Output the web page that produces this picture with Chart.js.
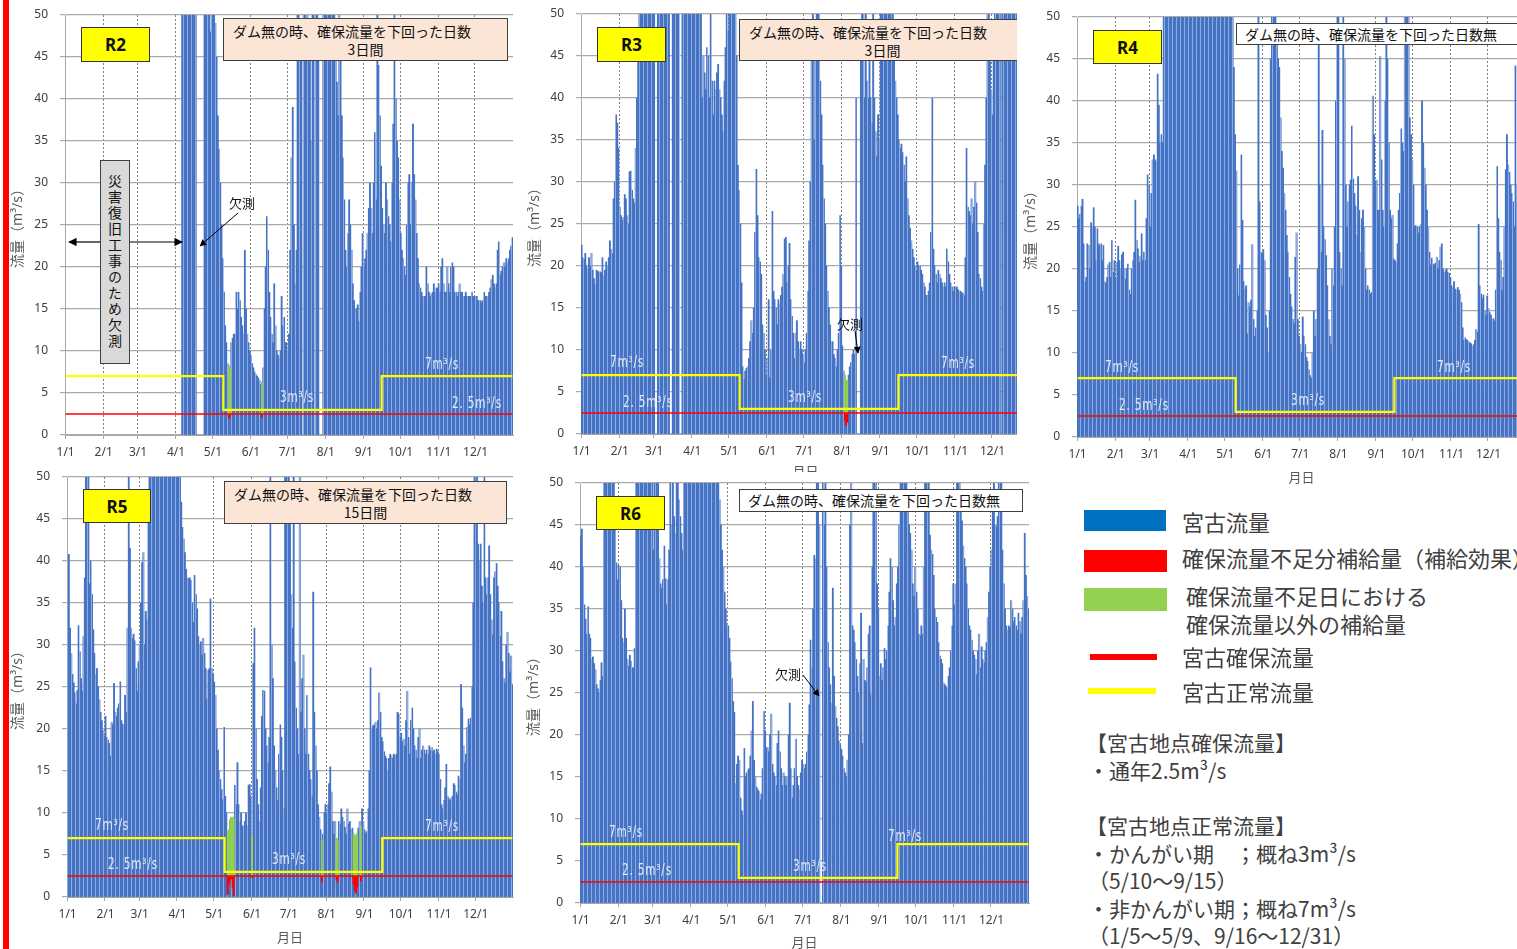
<!DOCTYPE html>
<html lang="ja">
<head>
<meta charset="utf-8">
<title>宮古地点 流量 R2〜R6</title>
<script src="https://cdn.jsdelivr.net/npm/chart.js@4.4.1/dist/chart.umd.min.js"></script>
<style>
  html, body { margin: 0; padding: 0; }
  body { width: 1517px; height: 949px; position: relative; overflow: hidden; background: #fff;
         font-family: "Noto Sans CJK JP", "Noto Sans", sans-serif; }
  .panel { position: absolute; background: #fff; overflow: hidden; }
  .panel canvas { display: block; }
  .tag { position: absolute; box-sizing: border-box; background: #ffff00; border: 1.5px solid #333;
         font: bold 17px "Noto Sans", sans-serif; color: #111; display: flex; align-items: center; justify-content: center; }
  .note { position: absolute; box-sizing: border-box; background: #fbe5d6; border: 1.5px solid #404040;
          font-size: 14px; color: #111; line-height: 18px; white-space: nowrap; }
  .note.plain { background: #fff; }
  .note .l1 { padding-left: 9px; padding-top: 3px; }
  .note .l2 { text-align: center; }
  .flow { position: absolute; transform: translate(-50%, -50%) scaleX(0.78); color: #e4eaf7; white-space: nowrap;
          font: 15px "DejaVu Sans Condensed", "DejaVu Sans", sans-serif; letter-spacing: 1px; }
  .memo { position: absolute; transform: translate(-50%, -50%); font-size: 13px; color: #111; white-space: nowrap; }
  .vbox { position: absolute; box-sizing: border-box; background: #d9d9d9; border: 1.5px solid #404040;
          writing-mode: vertical-rl; font-size: 14px; letter-spacing: 2px; color: #111;
          display: flex; align-items: center; justify-content: center; }
  svg.arrows { position: absolute; left: 0; top: 0; pointer-events: none; }
  .sw { position: absolute; }
  .lt { position: absolute; transform: translateY(-50%); font-size: 22px; line-height: 1; color: #404040; white-space: nowrap; }
  .lt.sm { font-size: 21px; }
  #redbar { position: absolute; left: 3px; top: 0; width: 6px; height: 949px; background: #ff0000; }
</style>
</head>
<body>

<div class="panel" style="left:0;top:0;width:520px;height:470px">
  <canvas id="cR2" width="520" height="470"></canvas>
  <div class="tag" style="left:81px;top:27px;width:69px;height:35px">R2</div>
  <div class="note" style="left:223px;top:18px;width:285px;height:43px">
    <div class="l1">ダム無の時、確保流量を下回った日数</div><div class="l2">3日間</div>
  </div>
  <div class="vbox" style="left:100px;top:160px;width:30px;height:204px">災害復旧工事のため欠測</div>
  <div class="memo" style="left:242px;top:202px">欠測</div>
  <div class="flow" style="left:442px;top:364px">7m³/s</div>
  <div class="flow" style="left:297px;top:397px">3m³/s</div>
  <div class="flow" style="left:477px;top:403px">2. 5m³/s</div>
  <svg class="arrows" width="520" height="470">
    <defs><marker id="a2" viewBox="0 0 10 10" refX="9" refY="5" markerWidth="7" markerHeight="7" orient="auto-start-reverse">
      <path d="M0,0 L10,5 L0,10 z" fill="#000"/></marker></defs>
    <line x1="69" y1="242" x2="100" y2="242" stroke="#000" stroke-width="1.2" marker-start="url(#a2)"/>
    <line x1="130" y1="242" x2="182" y2="242" stroke="#000" stroke-width="1.2" marker-end="url(#a2)"/>
    <line x1="238" y1="213" x2="200" y2="246" stroke="#000" stroke-width="1" marker-end="url(#a2)"/>
  </svg>
</div>

<div class="panel" style="left:520px;top:0;width:520px;height:480px">
  <canvas id="cR3" width="520" height="480"></canvas>
  <div class="tag" style="left:77px;top:27px;width:69px;height:35px">R3</div>
  <div class="note" style="left:219px;top:19px;width:300px;height:42px">
    <div class="l1">ダム無の時、確保流量を下回った日数</div><div class="l2" style="width:285px">3日間</div>
  </div>
  <div class="memo" style="left:330px;top:323px">欠測</div>
  <div class="flow" style="left:107px;top:362px">7m³/s</div>
  <div class="flow" style="left:128px;top:402px">2. 5m³/s</div>
  <div class="flow" style="left:285px;top:397px">3m³/s</div>
  <div class="flow" style="left:438px;top:363px">7m³/s</div>
  <svg class="arrows" width="520" height="480">
    <defs><marker id="a3" viewBox="0 0 10 10" refX="9" refY="5" markerWidth="7" markerHeight="7" orient="auto">
      <path d="M0,0 L10,5 L0,10 z" fill="#000"/></marker></defs>
    <line x1="335" y1="331" x2="338" y2="353" stroke="#000" stroke-width="1" marker-end="url(#a3)"/>
  </svg>
</div>

<div class="panel" style="left:1017px;top:0;width:520px;height:490px">
  <canvas id="cR4" width="520" height="490"></canvas>
  <div class="tag" style="left:76px;top:30px;width:69px;height:34px">R4</div>
  <div class="note plain" style="left:219px;top:23px;width:300px;height:22px">
    <div class="l1" style="padding-top:1px;padding-left:8px">ダム無の時、確保流量を下回った日数無</div>
  </div>
  <div class="flow" style="left:105px;top:367px">7m³/s</div>
  <div class="flow" style="left:127px;top:405px">2. 5m³/s</div>
  <div class="flow" style="left:291px;top:400px">3m³/s</div>
  <div class="flow" style="left:437px;top:367px">7m³/s</div>
</div>

<div class="panel" style="left:0;top:465px;width:520px;height:484px">
  <canvas id="cR5" width="520" height="484"></canvas>
  <div class="tag" style="left:83px;top:24px;width:68px;height:34px">R5</div>
  <div class="note" style="left:224px;top:16px;width:283px;height:43px">
    <div class="l1">ダム無の時、確保流量を下回った日数</div><div class="l2">15日間</div>
  </div>
  <div class="flow" style="left:112px;top:360px">7m³/s</div>
  <div class="flow" style="left:133px;top:399px">2. 5m³/s</div>
  <div class="flow" style="left:289px;top:394px">3m³/s</div>
  <div class="flow" style="left:442px;top:361px">7m³/s</div>
</div>

<div class="panel" style="left:520px;top:472px;width:520px;height:480px">
  <canvas id="cR6" width="520" height="480"></canvas>
  <div class="tag" style="left:76px;top:24px;width:69px;height:34px">R6</div>
  <div class="note plain" style="left:219px;top:17px;width:284px;height:23px">
    <div class="l1" style="padding-top:1px;padding-left:8px">ダム無の時、確保流量を下回った日数無</div>
  </div>
  <div class="memo" style="left:268px;top:201px">欠測</div>
  <div class="flow" style="left:106px;top:360px">7m³/s</div>
  <div class="flow" style="left:127px;top:398px">2. 5m³/s</div>
  <div class="flow" style="left:290px;top:394px">3m³/s</div>
  <div class="flow" style="left:385px;top:364px">7m³/s</div>
  <svg class="arrows" width="520" height="480">
    <defs><marker id="a6" viewBox="0 0 10 10" refX="9" refY="5" markerWidth="7" markerHeight="7" orient="auto">
      <path d="M0,0 L10,5 L0,10 z" fill="#000"/></marker></defs>
    <line x1="283" y1="203" x2="299" y2="224" stroke="#000" stroke-width="1" marker-end="url(#a6)"/>
  </svg>
</div>

<div id="legend">
  <div class="sw" style="left:1084px;top:510px;width:82px;height:21px;background:#0070c0"></div>
  <div class="lt" style="left:1182px;top:521px">宮古流量</div>
  <div class="sw" style="left:1084px;top:550px;width:83px;height:22px;background:#ff0000"></div>
  <div class="lt" style="left:1182px;top:557px">確保流量不足分補給量（補給効果）</div>
  <div class="sw" style="left:1084px;top:588px;width:83px;height:23px;background:#92d050"></div>
  <div class="lt" style="left:1186px;top:595px">確保流量不足日における</div>
  <div class="lt" style="left:1186px;top:623px">確保流量以外の補給量</div>
  <div class="sw" style="left:1090px;top:654px;width:67px;height:6px;background:#ff0000"></div>
  <div class="lt" style="left:1182px;top:656px">宮古確保流量</div>
  <div class="sw" style="left:1088px;top:688px;width:68px;height:6px;background:#ffff00"></div>
  <div class="lt" style="left:1182px;top:691px">宮古正常流量</div>
  <div class="lt sm" style="left:1086px;top:742px">【宮古地点確保流量】</div>
  <div class="lt sm" style="left:1088px;top:770px">・通年2.5m³/s</div>
  <div class="lt sm" style="left:1086px;top:825px">【宮古地点正常流量】</div>
  <div class="lt sm" style="left:1088px;top:853px">・かんがい期　；概ね3m³/s</div>
  <div class="lt sm" style="left:1088px;top:880px">（5/10～9/15）</div>
  <div class="lt sm" style="left:1088px;top:908px">・非かんがい期；概ね7m³/s</div>
  <div class="lt sm" style="left:1088px;top:935px">（1/5～5/9、9/16～12/31）</div>
</div>

<div id="redbar"></div>

<script>
// Daily flow at Miyako (m3/s). null = missing.
const MONTH_DAYS = [31, 28, 31, 30, 31, 30, 31, 31, 30, 31, 30, 31];
const TICK_LABELS = ['1/1', '2/1', '3/1', '4/1', '5/1', '6/1', '7/1', '8/1', '9/1', '10/1', '11/1', '12/1'];
const Y_MAX = 50;
const Y_STEP = 5;
const GUARANTEED_FLOW = 2.5;       // 確保流量
const NORMAL_FLOW_IRRIGATION = 3;  // かんがい期
const NORMAL_FLOW_OTHER = 7;       // 非かんがい期
const IRRIGATION_FROM = '5/10';
const IRRIGATION_TO = '9/15';

const flowR2 = [
  null, null, null, null, null, null, null, null, null, null, null, null, null, null, null, null, null, null, null, null, null, null, null, null, null, null, null, null, null, null, null,
  null, null, null, null, null, null, null, null, null, null, null, null, null, null, null, null, null, null, null, null, null, null, null, null, null, null, null, null,
  null, null, null, null, null, null, null, null, null, null, null, null, null, null, null, null, null, null, null, null, null, null, null, null, null, null, null, null, null, null, null,
  null, null, null, null, null, 65, 80, 90, 75, 70, 85, 60, 72, 66, 58, 62, 55, null, null, null, null, null, null, 70, 88, 64, 59, 56, 48, 60,
  55, 52, 49, 45, 38, 34, 30, 25, 21, 17, 13, 11, 8.5, 8.2, 8, 11, 11.5, 12, 12, 17, 15, 17, 16, 14, 13, 12, 22, 15, 12, 11, 10,
  9.5, 8.5, 8, 7.5, 7.2, 7, 6.8, 6.5, 6, 6.3, 8, 15, 20, 26, 22, 17, 14, 12, 11, 18, 13, 10, 9.5, 9.2, 10, 16.5, 13, 14, 11, 11,
  10, 12, 22, 33, 39, 25, 18, 22, 60, 55, 48, 45, null, 60, 52, 45, 60, 48, 45, 35, 55, 50, null, 58, 50, 45, null, null, null, 60, 70,
  75, 80, 65, 60, 55, 58, 52, 50, 48, 42, 38, 52, 45, 38, 33, 28, 22, 20, 24, 28, 25, 22, 18, 16, 15, 15, 15.5, 13.5, 17, 20, 24,
  20, 21, 22, 24, 27, 30, 27, 24, 30, 36, 28, 55, 44, 38, 32, 27, 25, 24, 30, 28, 26, 25, 23, 30, 37, 55, 40, 35, 33, 28,
  24, 22, 21, 20, 19, 25, 30, 31, 25, 30, 37, 31, 28, 24, 21, 18, 17.5, 17, 16.5, 16.5, 16.5, 20, 18, 17, 16.5, 16.8, 17, 18, 17, 17.5, 17.5,
  18, 17, 20, 21, 18, 17, 17, 20, 18, 17, 20, 20.5, 20, 17, 17, 16.5, 17, 18, 17, 17, 16.5, 16.5, 17, 16.5, 16.5, 16.5, 16.5, 17, 16.5, 16.5,
  16.5, 16.5, 16, 16, 16, 15.8, 16, 17, 16.5, 16.5, 16.5, 17, 17.5, 18.5, 19, 18, 17.5, 18, 22, 23, 19, 19.5, 20, 20.5, 20, 21, 20.5, 21, 22, 22.5, 23.5
];
const deficitDaysR2 = ['5/14', '5/15', '6/10'];
const supplyTopR2 = [8.2, 8, 6.3];
const naturalLowR2 = [2.0, 2.2, 2.1];

const flowR3 = [
  22.5, 21, 20.8, 21.5, 20, 19.7, 21, 20, 21.5, 19.5, 18.5, 17.8, 19.5, 19.4, 19.3, 19.3, 19.2, 21, 18.8, 19.5, 20.5, 20, 21, 23, 22, 21.5, 28, 30, 38, 37, 34,
  27, 26, 25.5, 25.8, 28.5, 28, 26, 25, 31.2, 31.3, 29, 28, 27.5, 34, 40, 48, 60, 70, 80, 90, 100, 85, 75, 70, 65, 80, 90, 75,
  80, null, null, 90, 85, 95, 75, 80, 100, 90, 85, 70, 65, null, null, 80, 75, 90, 85, 70, 65, null, null, 70, 90, 95, 80, 85, 90, 85, 88,
  90, 85, 80, 75, 70, 60, 55, 52, 40, 45, 43, 41, 46, 45, 40, 50, 42, 38, 42, 41, 43, 44, 41, 40, 38, 36, 42, 46, 50, 48,
  55, 60, 65, 58, 55, 52, 45, 32, 29, 25, 18, 8, 6.5, 7.5, 7.8, 8, 9, 11, 13.5, 12, 15, 24, 31.5, 26, 21, 20.5, 19, 13, 12, 10, 7,
  9, 16, 6.7, 10, 26.5, 17, 16, 15, 13, 16, 15.5, 16.5, 17.5, 19, 23.2, 23.4, 18, 20, 22.7, 16, 14, 12, 9, 12, 13.5, 11, 10, 11, 10, 9.5,
  8.5, 10, 12, 17, 23, 30, 45, 55, 35, 48, 60, 55, 50, 42, 38, 32, 28, 25, 20, 17, 15, 13, 11, 11, 9.5, 9, 8, 10, 12, 26, 20,
  10.5, 7.5, 7, 6.3, 6.4, 7, 8, 8.5, 9.5, 10, 9.5, 40, null, null, null, 45, 55, 60, 40, 50, 42, 40, 45, 40, 37, 55, 40, 36, 33, 38, 35,
  50, 55, 60, 65, 70, 58, 62, 55, 52, 60, 50, 45, 42, 40, 38, 35, 34, 34.5, 33.5, 32, 30, 33, 28, 26, 24.5, 23, 22, 21, 20, 19.5,
  20.5, 20, 20, 19.5, 19, 18, 17.5, 16.5, 16.5, 17, 18, 24, 40, 22, 20, 19, 18, 19.5, 19, 18.5, 18, 17.5, 18, 17.5, 22, 20.5, 19, 18, 17.5, 17, 17.5,
  17.5, 17.5, 17.2, 17, 17, 16.8, 16.8, 16.5, 21, 34, 27, 26.5, 26, 28, 25, 27, 30, 27.5, 24, 19, 18.5, 17.5, 17, 25, 32, 40, 55, 50, 48, 41,
  38, 45, 50, 55, 52, 60, 50, null, 60, 70, 80, 75, 65, 70, 60, 65, 55, 60, 58, 55, 52, 50, 48, 45, 42, 40, 38, 36, 35, 33, 32
];
const deficitDaysR3 = ['8/3', '8/4', '8/5'];
const supplyTopR3 = [7, 6.3, 6.4];
const naturalLowR3 = [1.6, 1.0, 1.4];

const flowR4 = [
  27.5, 26, 26.5, 27.5, 28.3, 23, 18.5, 19, 23, 22.8, 20, 25.5, 25, 27.3, 25, 21, 24.8, 23, 22.8, 23, 21, 22.8, 18.5, 18.3, 19, 20.5, 20.8, 19, 23.4, 19.6, 21,
  19, 20.8, 22.7, 21, 20, 21.7, 22, 20, 18.8, 20, 20.6, 17.5, 17, 20, 21, 22, 28.2, 23.4, 22.4, 20.8, 21.5, 24.2, 21, 22, 21, 26, 31.2, 30,
  25, 29, 33, 33.6, 33, 32.8, 43.2, 39.5, 35, 36, 35, 55, 60, 65, 70, 75, 80, 85, 90, 95, 100, 90, 85, 95, 100, 110, 105, 95, 90, 100, 110,
  120, 110, 100, 95, 90, 100, 110, 120, 130, 115, 105, 100, 95, 90, 85, 80, 90, 100, 95, 90, 85, 80, 75, 80, 85, 90, 80, 75, 70, 65,
  80, 70, 65, 60, 55, 52, 50, 44, 36, 31.7, 20, 16.8, 20.5, 33.6, 25.8, 18.5, 17.6, 18, 12.3, 16, 15.5, 16.3, 22.9, 14, 12, 13, 15, 55, 28, 22, 21.8,
  22.3, 21, 14.5, 13, 10, 15, 45, 60, 55, 52, 50, 48, 45, 44, 38, 34, 32, 29, 27, 24, 22, 19, 17, 15.5, 14, 13.5, 21.4, 24.3, 14, 12,
  11, 10, 14.3, 12, 11, 9.5, 9, 8, 7.3, 7, 10, 15, 12, 14, 20, 46.9, 30, 22, 36.5, 25, 23.5, 21.6, 18, 14, 12, 11, 20, 18, 25, 40, 60,
  60, 22, 20, 18, 55, 45, 30, 25, 28, 30, 30.6, 37, 30.7, 29, 27.5, 24, 31, 27, 22, 26, 27, 25, 20, 17.5, 18, 17.5, 17, 17.2, 40.6, 36, 30.5,
  30.6, 27, 27, 45.3, 33, 27, 25, 40, 55, 45, 35, 27, 26, 26.4, 21.2, 21, 20.8, 23, 27, 29, 36.7, 35, 34, 55, 60, 55, 50, 38, 36, 33,
  30, 25, 25.2, 25, 24.3, 25, 25.3, 40, 35, 32, 30, 27, 25, 22, 20.5, 21.3, 20.6, 20.5, 20.7, 21.4, 20, 21, 22.6, 23, 20, 19.6, 19.8, 20, 19.6, 19.5, 19,
  18, 17.8, 18.5, 17.6, 17.5, 17.8, 17.5, 17, 16, 13, 11.5, 11.8, 11.6, 11.5, 11.3, 11.2, 11.1, 10.8, 11, 11.5, 12.8, 12.5, 25.3, 18, 17, 16.5, 16.9, 15, 14.5, 16.8,
  15.3, 14.8, 14.5, 14, 14.1, 13.8, 17.5, 32.2, 26, 22, 21, 17.5, 19, 25, 31.8, 36, 32.4, 31.5, 30, 29, 28, 25, 44.2, 30, 28, 27, 26, 25, 24, 24, 23
];
const deficitDaysR4 = [];
const supplyTopR4 = [];
const naturalLowR4 = [];

const flowR5 = [
  35, 40.8, 32, 29, 26.5, 25.5, 24.3, 23, 24.6, 32.3, 29.2, 26, 24.5, 31, 38, 55, 60, 50, 37.3, 40, 36, 31.8, 29, 26.5, 27.2, 25, 23.5, 22, 21, 19.8, 19.2,
  21.5, 19, 18.7, 18.3, 16.8, 20.8, 20.5, 25.4, 22, 21.5, 22.5, 23, 25.6, 21, 20.6, 20.5, 24, 22, 32, 55, 41.5, 32, 30.8, 31.3, 30.5, 27.2, 24.5, 28,
  30, 35, 39.8, 41, 30, 34, 33, 45, 55, 60, 70, 65, 75, 80, 70, 65, 75, 85, 90, 80, 70, 75, 85, 80, 70, 65, 60, 70, 80, 75, 70,
  60, 55, 50, 47, 44, 42.6, 41, 39, 38, 37.9, 38, 37.7, 35, 32.7, 38.3, 36, 34.3, 31, 30, 30.4, 28.8, 30.8, 29, 27.2, 23.6, 27, 27.2, 35.5, 27.2, 26.5,
  25.6, 24, 20, 17.5, 15, 14, 12.8, 11.6, 20.2, 12, 10, 7.8, 8, 9.2, 9.5, 9.5, 9.3, 13.3, 11, 16, 11, 9, 10, 8.5, 8.4, 9, 10, 8.5, 13.3, 13.4, 12,
  7.3, 27.8, 32, 20, 14, 11, 9, 13, 21.5, 24.6, 24.5, 20, 18, 16, 19, 55, 30, 26, 18, 15, 13, 11.5, 17, 20.5, 19, 15, 10.5, 55, 60, 58,
  60, 45, 36, 32, 55, 28, 22.5, 20, 17, 55, 22, 26, 28.8, 20, 17, 24, 17, 15, 14, 12, 36.3, 22, 18, 15, 11, 9.5, 8, 6.8, 7.5, 10, 11,
  10, 11, 13.5, 15.5, 12.5, 9, 7.5, 9, 7, 6.8, 9, 8.7, 10.5, 9.5, 9, 8.3, 7.5, 10.5, 8.7, 9, 8, 8.2, 7.5, 7.3, 7.3, 7.5, 8.2, 9, 8.5, 10.5, 9,
  8, 7.6, 7.8, 10.5, 15, 27.3, 20, 20.4, 20.5, 20.8, 20, 21, 24.3, 22, 19, 18.5, 17.3, 16.8, 16.5, 15, 16.5, 17, 16.8, 16.5, 17, 16.8, 17, 22, 21.8, 19,
  19.5, 18.5, 18.8, 18, 21, 24.5, 19, 17, 21, 22.5, 20, 18, 17.5, 16.5, 19, 20, 16.5, 17.5, 18, 17.5, 17, 17.5, 17, 18, 17.5, 17.8, 17.3, 17.5, 17, 17.6, 17.3,
  17, 14, 11, 10.5, 11.5, 13, 15.8, 12, 11.7, 11.5, 11.8, 12, 13.5, 13.3, 12.5, 12.2, 14.4, 14, 25.3, 22.5, 18, 16, 17, 20.2, 21.2, 20.5, 21.3, 25, 35, 55,
  60, 50, 42, 40, 42, 37, 35, 55, 38, 36, 38, 41.8, 36, 33, 31.2, 38, 38.7, 39.7, 37, 35, 31, 34, 28, 26, 25.5, 30, 31.5, 29, 26.8, 28.7, 25.3
];
const deficitDaysR5 = ['5/12', '5/13', '5/14', '5/15', '5/16', '5/17', '6/1', '7/28', '8/9', '8/10', '8/23', '8/24', '8/25', '8/26', '8/29'];
const supplyTopR5 = [7.8, 8, 9.2, 9.5, 9.5, 9.3, 7.3, 6.8, 7, 6.8, 7.5, 7.3, 7.3, 7.5, 8.5];
const naturalLowR5 = [0.3, 1.5, 2.0, 2.2, 1.2, 0.2, 2.3, 1.8, 2.0, 1.8, 1.5, 0.8, 0.5, 1.2, 1.9];

const flowR6 = [
  43.6, 44.5, 40, 35.5, 33.8, 32, 35.3, 32, 31.5, 29, 29.3, 28.5, 27.8, 26, 25.5, 25, 26.5, 28.6, 27, 50, 60, 55, 52, 55, 60, 58, 54, 52, 48, 40.5, 38.5,
  40.2, 40, 36, 31.5, 31, 35, 31.5, 29, 28.2, 29.5, 28.8, 28, 28, 30.3, 55, 60, 55, 52, 58, 62, 55, 50, 53, 57, 60, 55, 52, 50,
  42, 50, 55, 60, 52, 41, 38, 37.5, 38.5, 42.5, 38.6, 35.5, 38.5, 42, 55, 45, 50, 46, 44, 50, 52, 48, 46, 44, 42, 50, 55, 60, 62, 58, 60,
  65, 70, 60, 55, 75, 80, 70, 65, 60, 70, 75, 80, 70, 65, 60, 55, 60, 65, 70, 60, 55, 52, 50, 48, 45, 42, 40, 37, 35, 33,
  33, 31.5, 28.7, 26.7, 24, 22.7, 14.2, 16.5, 17.5, 17, 12.5, 11, 10.5, 18.4, 15, 15.5, 15.8, 16, 17.5, 20.5, 24, 17, 15, 13.8, 13.5, 13.3, 12.3, 13, 16, 22.8, 20.5,
  18.5, 18.5, 18, 20, 22.5, 16.5, 15.5, 15, 14, 19, 20.5, 18, 16, 14, 15.5, 15, 14, 15, 20, 23.8, 16, 12.5, 14, 16, 19.5, 15, 14, 13.5, 15.5, 17,
  16.5, 16, 16.5, 18, 20, 23.6, 31.3, 28, 35, 41.4, 41, 55, 50, 45, null, null, 60, 45, 55, 40, 31, 28, 26, 23.8, 37.5, 27, 23.4, 22, 21, 19.3, 18.8,
  18.3, 17.5, 16, 15.5, 15, 17, 20, 45, 55, 33, 32.5, 31, 29, 27, 25, 28.5, 34.5, 19, 29, 26.5, 26.3, 28, 32, 33, 24.8, 40, 55, 60, 50, 38, 35,
  27, 28.5, 26.5, 28, 30.3, 29, 30, 33, 37, 41, 40, 36, 33, 34, 38, 40, 45, 55, 60, 65, 55, 52, 50, 48, 45, 44, 42, 38, 36.5, 40,
  37, 35, 32, 31.8, 33, 32, 40, 55, 60, 55, 50, 43.8, 42, 41.5, 39, 35, 34, 33.4, 31, 29.4, 29, 28.5, 26.2, 26, 25.8, 25.5, 27, 28, 30, 33, 38,
  35.5, 38, 55, 60, 52, 48, 45.5, 42.5, 41, 40, 38, 35, 33, 32.5, 31.3, 30, 29.5, 29, 27.2, 30, 32, 28, 30.5, 29, 28.6, 30, 31, 34, 37, 40,
  42, 48, 55, 45, 44.8, 46, 55, 60, 50, 42, 38, 35, 33, 32.5, 33, 32.8, 36, 35, 33.5, 34, 33, 32.5, 34.5, 33.5, 32, 34, 36, 44, 39, 36.5, 35
];
const deficitDaysR6 = [];
const supplyTopR6 = [];
const naturalLowR6 = [];

// category labels 1/1 .. 12/31
const dayLabels = [];
MONTH_DAYS.forEach((n, m) => {
  for (let d = 1; d <= n; d++) dayLabels.push((m + 1) + '/' + d);
});
const irrFrom = dayLabels.indexOf(IRRIGATION_FROM);
const irrTo = dayLabels.indexOf(IRRIGATION_TO);
const normalFlow = dayLabels.map((_, i) => (i >= irrFrom && i <= irrTo) ? NORMAL_FLOW_IRRIGATION : NORMAL_FLOW_OTHER);
const guaranteedFlow = dayLabels.map(() => GUARANTEED_FLOW);

Chart.defaults.font.family = '"Noto Sans", "Noto Sans CJK JP", sans-serif';
Chart.defaults.color = '#404040';

// blue fill with the thin light seams the spreadsheet render shows
function seamFill() {
  const c = document.createElement('canvas');
  c.width = 4; c.height = 1;
  const g = c.getContext('2d');
  g.fillStyle = '#4472c4'; g.fillRect(0, 0, 4, 1);
  g.fillStyle = '#8ea9dc'; g.fillRect(3, 0, 1, 1);
  return g.createPattern(c, 'repeat');
}

const isMonthStart = i => TICK_LABELS.includes(dayLabels[i]);

function drawPanel(id, flow, defDays, defTop, defLow, lay) {
  new Chart(document.getElementById(id), {
    type: 'bar',
    data: {
      labels: dayLabels,
      datasets: [
        { type: 'line', label: '宮古正常流量', data: normalFlow, borderColor: '#ffff00', borderWidth: 2.2,
          pointRadius: 0, stepped: 'middle', order: 0 },
        { type: 'line', label: '宮古確保流量', data: guaranteedFlow, borderColor: '#ff0000', borderWidth: 1.6,
          pointRadius: 0, order: 0 },
        { label: '確保流量以外の補給量', data: defDays.map((d, i) => ({ x: d, y: [GUARANTEED_FLOW, defTop[i]] })),
          backgroundColor: '#92d050', grouped: false, barPercentage: 1, categoryPercentage: 1, order: 1 },
        { label: '確保流量不足分補給量', data: defDays.map((d, i) => ({ x: d, y: [defLow[i], GUARANTEED_FLOW] })),
          backgroundColor: '#ff0000', grouped: false, barPercentage: 1, categoryPercentage: 1, order: 1 },
        { label: '宮古流量', data: flow, backgroundColor: seamFill(), grouped: false,
          barPercentage: 1, categoryPercentage: 1, order: 2 }
      ]
    },
    options: {
      responsive: false,
      animation: false,
      devicePixelRatio: 1,
      events: [],
      layout: { padding: { top: lay.top, right: lay.right, left: 0, bottom: 0 } },
      plugins: { legend: { display: false }, tooltip: { enabled: false } },
      scales: {
        x: {
          ticks: {
            autoSkip: false, maxRotation: 0, minRotation: 0, padding: 6,
            font: { size: 12 }, color: '#404040',
            callback: (v, i) => isMonthStart(i) ? dayLabels[i] : ''
          },
          grid: {
            color: c => (c.index > 0 && isMonthStart(c.index)) ? '#808080' : 'rgba(0,0,0,0)',
            lineWidth: 1, tickLength: 4,
            tickColor: c => isMonthStart(c.index) ? '#a6a6a6' : 'rgba(0,0,0,0)'
          },
          border: { color: '#a6a6a6', dash: [2, 2] },
          title: { display: lay.xTitle, text: '月日', color: '#595959', font: { size: 13 },
                   padding: { top: 0, bottom: lay.xTitlePad } },
          afterFit: s => { s.height = lay.xh; }
        },
        y: {
          min: 0, max: Y_MAX,
          ticks: { stepSize: Y_STEP, padding: 12, font: { size: 12 }, color: '#404040' },
          grid: { color: '#aaaaaa', lineWidth: 1.2, tickLength: 5 },
          border: { color: '#aaaaaa' },
          title: { display: true, text: '流量（m³/s）', color: '#595959', font: { size: 14 },
                   padding: { top: lay.yTitlePad, bottom: 0 } },
          afterFit: s => { s.width = lay.yw; s.paddingTop = 0; s.paddingBottom = 0; }
        }
      }
    }
  });
}

drawPanel('cR2', flowR2, deficitDaysR2, supplyTopR2, naturalLowR2, { top: 15, right: 7, yw: 65, xh: 35, xTitle: false, xTitlePad: 0, yTitlePad: 10 });
drawPanel('cR3', flowR3, deficitDaysR3, supplyTopR3, naturalLowR3, { top: 14, right: 10, yw: 61, xh: 46, xTitle: true, xTitlePad: 0, yTitlePad: 7 });
drawPanel('cR4', flowR4, deficitDaysR4, supplyTopR4, naturalLowR4, { top: 17, right: 11, yw: 60, xh: 53, xTitle: true, xTitlePad: 4, yTitlePad: 6 });
drawPanel('cR5', flowR5, deficitDaysR5, supplyTopR5, naturalLowR5, { top: 12, right: 7, yw: 67, xh: 52, xTitle: true, xTitlePad: 3, yTitlePad: 10 });
drawPanel('cR6', flowR6, deficitDaysR6, supplyTopR6, naturalLowR6, { top: 11, right: 11, yw: 60, xh: 49, xTitle: true, xTitlePad: 1, yTitlePad: 6 });
</script>
</body>
</html>
